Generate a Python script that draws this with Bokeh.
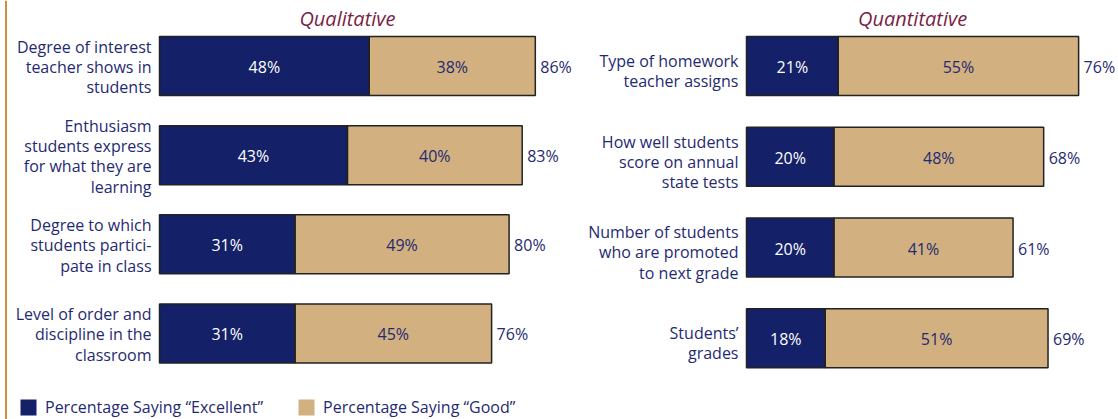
from bokeh.plotting import figure
from bokeh.models import Range1d, ColumnDataSource, Label, Legend, LegendItem, Span
from bokeh.layouts import row
from bokeh.core.properties import value
from bokeh.embed import file_html
from bokeh.resources import INLINE

# ---------------- data ----------------
qual_title = "Qualitative"
qual_labels = [
    "Degree of interest\nteacher shows in\nstudents",
    "Enthusiasm\nstudents express\nfor what they are\nlearning",
    "Degree to which\nstudents partici-\npate in class",
    "Level of order and\ndiscipline in the\nclassroom",
]
qual_excellent = [48, 43, 31, 31]
qual_good = [38, 40, 49, 45]

quant_title = "Quantitative"
quant_labels = [
    "Type of homework\nteacher assigns",
    "How well students\nscore on annual\nstate tests",
    "Number of students\nwho are promoted\nto next grade",
    "Students\u2019\ngrades",
]
quant_excellent = [21, 20, 20, 18]
quant_good = [55, 48, 41, 51]

legend_labels = ["Percentage Saying \u201cExcellent\u201d", "Percentage Saying \u201cGood\u201d"]

# ---------------- style ----------------
NAVY = "#142068"
TAN = "#d2b080"
TEXT = "#1f2a72"
TITLE_COL = "#7a1f45"
OUTLINE = "#222222"
FONT = "Open Sans"
FS = "16px"
H = 419
PX_PER_PCT = 4.37


def panel(title, labels, exc, good, width, zero_px, row_px, first_px,
          label_dy=0, legend=False):
    n = len(labels)
    ys = list(range(n))
    tot = [e + g for e, g in zip(exc, good)]
    x0 = -zero_px / PX_PER_PCT
    x1 = x0 + width / PX_PER_PCT
    ytop = -first_px / row_px
    ybot = ytop + H / row_px
    p = figure(width=width, height=H, x_range=Range1d(x0, x1),
               y_range=Range1d(ybot, ytop), output_backend="svg",
               toolbar_location=None, min_border=0)
    p.axis.visible = False
    p.grid.visible = False
    p.outline_line_color = None
    p.background_fill_color = None
    p.border_fill_color = None

    src = ColumnDataSource(dict(
        y=ys, exc=exc, good=good, tot=tot, label=labels,
        exc_mid=[e / 2 for e in exc],
        good_mid=[e + g / 2 for e, g in zip(exc, good)],
        exc_txt=[f"{e}%" for e in exc],
        good_txt=[f"{g}%" for g in good],
        tot_txt=[f"{t}%" for t in tot],
    ))
    bh = 59 / row_px
    r_exc = p.hbar(y="y", left=0, right="exc", height=bh, source=src,
                   fill_color=NAVY, line_color=None)
    r_good = p.hbar(y="y", left="exc", right="tot", height=bh, source=src,
                    fill_color=TAN, line_color=None)
    p.hbar(y="y", left=0, right="exc", height=bh, source=src,
           fill_alpha=0, line_color=OUTLINE, line_width=1.5)
    p.hbar(y="y", left="exc", right="tot", height=bh, source=src,
           fill_alpha=0, line_color=OUTLINE, line_width=1.5)

    common = dict(text_font=value(FONT), text_font_size=FS, text_baseline="middle")
    p.text(x="exc_mid", y="y", text="exc_txt", source=src, text_color="white",
           text_align="center", y_offset=1, **common)
    p.text(x="good_mid", y="y", text="good_txt", source=src, text_color=TEXT,
           text_align="center", y_offset=1, **common)
    p.text(x="tot", y="y", text="tot_txt", source=src, text_color=TEXT,
           text_align="left", x_offset=5, y_offset=1, **common)
    p.text(x=0, y="y", text="label", source=src, text_color=TEXT,
           text_align="right", x_offset=-8, y_offset=label_dy,
           text_line_height=0.92, **common)

    p.add_layout(Label(x=max(tot) / 2, y=H - 18, y_units="screen", text=title,
                       text_font=FONT, text_font_size="20px",
                       text_font_style="italic", text_color=TITLE_COL,
                       text_align="center", text_baseline="middle"))

    if legend:
        lg = Legend(items=[LegendItem(label=legend_labels[0], renderers=[r_exc]),
                           LegendItem(label=legend_labels[1], renderers=[r_good])],
                    orientation="horizontal", location=(18, 1),
                    glyph_width=20, glyph_height=20, label_standoff=7, spacing=33,
                    padding=0, margin=0, border_line_color=None,
                    background_fill_alpha=0, label_text_font=FONT,
                    label_text_font_size=FS, label_text_color=TEXT,
                    label_height=20)
        p.add_layout(lg)
        p.add_layout(Span(location=x0 + 5.5 / PX_PER_PCT, dimension="height",
                          line_color="#c8923c", line_width=2))
    return p


p1 = panel(qual_title, qual_labels, qual_excellent, qual_good,
           width=575, zero_px=159, row_px=89.1, first_px=65.6, label_dy=1,
           legend=True)
p2 = panel(quant_title, quant_labels, quant_excellent, quant_good,
           width=543, zero_px=171, row_px=90.75, first_px=65.5, label_dy=5)

layout = row(p1, p2, spacing=0)
open("out.html", "w").write(file_html(layout, INLINE))
